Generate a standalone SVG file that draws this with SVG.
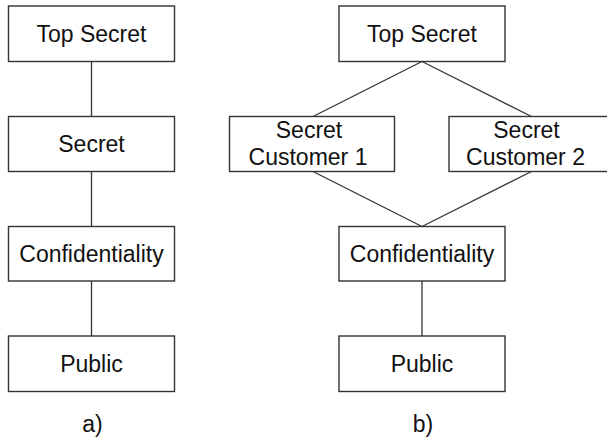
<svg xmlns="http://www.w3.org/2000/svg" width="607" height="438" viewBox="0 0 607 438">
  <style>
    .box { fill: #ffffff; stroke: #333333; stroke-width: 1.4; }
    .edge { fill: none; stroke: #333333; stroke-width: 1.3; }
    text { font-family: "Liberation Sans", Arial, sans-serif; font-size: 23px; fill: #111111; text-anchor: middle; }
  </style>
  <rect width="607" height="438" fill="#ffffff"/>

  <!-- connectors -->
  <g id="connectors">
    <line class="edge" x1="91.5" y1="61.5" x2="91.5" y2="116.5"/>
    <line class="edge" x1="91.5" y1="171.5" x2="91.5" y2="226.5"/>
    <line class="edge" x1="91.5" y1="281" x2="91.5" y2="336"/>
    <line class="edge" x1="422" y1="61.5" x2="313" y2="116.5"/>
    <line class="edge" x1="422" y1="61.5" x2="531.5" y2="116.5"/>
    <line class="edge" x1="313" y1="171.5" x2="422" y2="226.5"/>
    <line class="edge" x1="531.5" y1="171.5" x2="422" y2="226.5"/>
    <line class="edge" x1="422" y1="281" x2="422" y2="336"/>
  </g>

  <!-- a) linear hierarchy -->
  <g id="a-top-secret">
    <rect class="box" x="8.5" y="6" width="166" height="55.5"/>
    <text x="91.5" y="41.5">Top Secret</text>
  </g>
  <g id="a-secret">
    <rect class="box" x="8.5" y="116.5" width="166" height="55"/>
    <text x="91.5" y="151.7">Secret</text>
  </g>
  <g id="a-confidentiality">
    <rect class="box" x="8.5" y="226.5" width="166" height="54.5"/>
    <text x="91.5" y="261.7">Confidentiality</text>
  </g>
  <g id="a-public">
    <rect class="box" x="8.5" y="336" width="166" height="55.5"/>
    <text x="91.5" y="371.7">Public</text>
  </g>
  <text id="label-a" x="92.5" y="431.5">a)</text>

  <!-- b) lattice with compartments -->
  <g id="b-top-secret">
    <rect class="box" x="339" y="6" width="166" height="55.5"/>
    <text x="422" y="41.5">Top Secret</text>
  </g>
  <g id="b-secret-customer-1">
    <rect class="box" x="229.5" y="116.5" width="165" height="55"/>
    <text x="309" y="138.3">Secret</text>
    <text x="308" y="165">Customer 1</text>
  </g>
  <g id="b-secret-customer-2">
    <rect class="box" x="449" y="116.5" width="166" height="55"/>
    <text x="526.5" y="138.3">Secret</text>
    <text x="525.5" y="165">Customer 2</text>
  </g>
  <g id="b-confidentiality">
    <rect class="box" x="339" y="226.5" width="166" height="54.5"/>
    <text x="422" y="261.7">Confidentiality</text>
  </g>
  <g id="b-public">
    <rect class="box" x="339" y="336" width="166" height="55.5"/>
    <text x="422" y="371.7">Public</text>
  </g>
  <text id="label-b" x="423" y="431.5">b)</text>
</svg>
